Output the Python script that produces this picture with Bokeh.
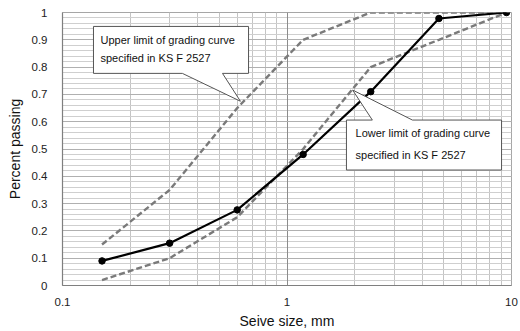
import numpy as np
from bokeh.plotting import figure
from bokeh.models import (Range1d, FixedTicker, NumeralTickFormatter, Grid, Label)
from bokeh.embed import file_html
from bokeh.resources import INLINE

# Sieve sizes (mm) and passing fractions
sieve_mm = [0.15, 0.3, 0.6, 1.18, 2.36, 4.75, 9.5]
measured = [0.09, 0.155, 0.277, 0.48, 0.71, 0.978, 1.0]
upper_limit = [0.15, 0.35, 0.65, 0.90, 1.0, 1.0, 1.0]
lower_limit = [0.02, 0.10, 0.25, 0.50, 0.80, 0.90, 1.0]

x_ticks = [0.1, 1, 10]
y_ticks = [0, 0.1, 0.2, 0.3, 0.4, 0.5, 0.6, 0.7, 0.8, 0.9, 1]

FONT = "Liberation Sans"

p = figure(width=520, height=331,
           x_axis_type="log", x_range=Range1d(0.1, 10), y_range=Range1d(0, 1),
           min_border_left=62, min_border_right=9, min_border_top=12, min_border_bottom=45,
           output_backend="svg", toolbar_location=None)
p.background_fill_color = "white"
p.border_fill_color = "white"
p.outline_line_color = "#a6a6a6"

# grid: log minor lines on x, 0.02 steps on y
p.xgrid.ticker = FixedTicker(ticks=[0.2, 0.3, 0.4, 0.5, 0.6, 0.7, 0.8, 0.9,
                                    2, 3, 4, 5, 6, 7, 8, 9])
p.xgrid.grid_line_color = "#c4c4c4"
p.xgrid.grid_line_width = 1
p.ygrid.ticker = FixedTicker(ticks=list(np.round(np.arange(0, 1.0001, 0.02), 2)))
p.ygrid.grid_line_color = "#cfcfcf"
p.ygrid.grid_line_width = 1
p.add_layout(Grid(dimension=0, ticker=FixedTicker(ticks=[1]),
                  grid_line_color="#8c8c8c", grid_line_width=1))
p.add_layout(Grid(dimension=1, ticker=FixedTicker(ticks=y_ticks[1:-1]),
                  grid_line_color="#b0b0b0", grid_line_width=1))

# axes
for ax in (p.xaxis[0], p.yaxis[0]):
    ax.axis_line_color = "#7f7f7f"
    ax.axis_line_width = 1.2
    ax.major_tick_line_color = None
    ax.minor_tick_line_color = None
    ax.major_label_text_font = FONT
    ax.major_label_text_font_size = "11.5px"
    ax.major_label_text_color = "#222222"
    ax.axis_label_text_font = FONT
    ax.axis_label_text_font_size = "14px"
    ax.axis_label_text_font_style = "normal"
    ax.axis_label_text_color = "#111111"

p.xaxis.ticker = FixedTicker(ticks=x_ticks)
p.xaxis.formatter = NumeralTickFormatter(format="0.[0]")
p.xaxis.major_label_standoff = 6
p.xaxis.axis_label = "Seive size, mm"
p.xaxis.axis_label_standoff = 4

p.yaxis.ticker = FixedTicker(ticks=y_ticks)
p.yaxis.formatter = NumeralTickFormatter(format="0.[0]")
p.yaxis.major_label_standoff = 9
p.yaxis.axis_label = "Percent passing"
p.yaxis.axis_label_standoff = 6

# limit curves (dashed) and measured curve
p.line(sieve_mm, upper_limit, line_color="#7a7a7a", line_width=2.4, line_dash="6 3")
p.line(sieve_mm, lower_limit, line_color="#7a7a7a", line_width=2.4, line_dash="6 3")
p.line(sieve_mm, measured, line_color="black", line_width=2.2)
p.scatter(sieve_mm, measured, size=6.5, fill_color="black", line_color="black")

# callout boxes (data coordinates)
p.patch([0.1374, 0.674, 0.674, 0.516, 0.62, 0.342, 0.1374],
        [0.949, 0.949, 0.777, 0.777, 0.675, 0.777, 0.777],
        fill_color="white", line_color="#555555", line_width=1)
p.patch([1.84, 2.40, 1.96, 3.62, 9.03, 9.03, 1.84],
        [0.606, 0.606, 0.716, 0.606, 0.606, 0.423, 0.423],
        fill_color="white", line_color="#555555", line_width=1)

notes = [
    (0.1476, 0.898, "Upper limit of grading curve"),
    (0.1476, 0.832, "specified  in KS F 2527"),
    (2.02, 0.558, "Lower limit of grading curve"),
    (2.02, 0.478, "specified  in KS F 2527"),
]
for nx, ny, txt in notes:
    p.add_layout(Label(x=nx, y=ny, text=txt, text_font=FONT, text_font_size="11px",
                       text_color="#111111", text_baseline="middle", text_align="left"))

open("out.html", "w").write(file_html(p, INLINE))
